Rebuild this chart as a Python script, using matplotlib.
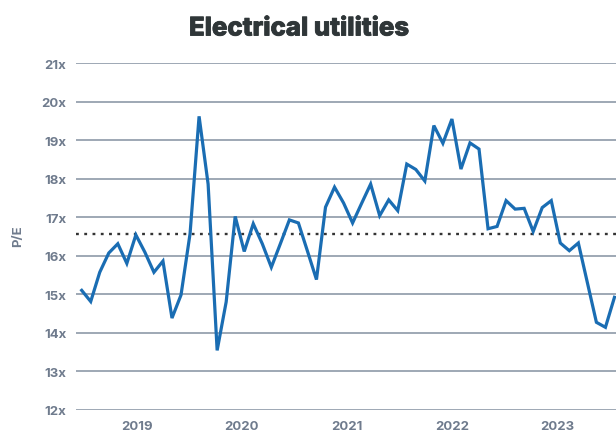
import matplotlib
matplotlib.use("Agg")
import matplotlib.pyplot as plt
import matplotlib.patheffects as pe
import numpy as np

# Monthly P/E values
pe_values = [
    15.10, 14.81, 15.57, 16.07, 16.31, 15.80, 16.54, 16.09, 15.57, 15.86,
    14.38, 14.98, 16.57, 19.62, 17.86, 13.54, 14.80, 17.02, 16.11, 16.83,
    16.31, 15.70, 16.31, 16.93, 16.85, 16.12, 15.38, 17.26, 17.78, 17.37,
    16.85, 17.36, 17.86, 17.04, 17.45, 17.17, 18.38, 18.24, 17.94, 19.38,
    18.92, 19.55, 18.25, 18.93, 18.77, 16.70, 16.76, 17.43, 17.21, 17.23,
    16.63, 17.25, 17.43, 16.33, 16.13, 16.33, 15.30, 14.27, 14.14, 14.92,
]
average_pe = 16.57
year_labels = ["2019", "2020", "2021", "2022", "2023"]
year_positions = [6.12, 17.75, 29.38, 41.01, 52.64]
y_ticks = list(range(12, 22))
y_tick_labels = [f"{v}x" for v in y_ticks]

font = "Inter"
label_color = "#6f7b8d"
grid_color = "#8e99a8"

fig = plt.figure(figsize=(6.16, 4.35), dpi=100)
ax = fig.add_axes([76/616, (435-410.7)/435, 1 - 76/616, (410.7-64.2)/435])

x = np.arange(len(pe_values))
ax.plot(x, pe_values, color="#1a6db3", linewidth=2.3, solid_joinstyle="miter", zorder=3, clip_on=False)
ax.axhline(average_pe, color="#333333", linewidth=1.7, linestyle=(0, (1.2, 2.3)), zorder=2)

ax.set_xlim(-0.63, 59.17)
ax.set_ylim(12, 21)
ax.set_yticks(y_ticks)
ax.set_yticklabels(y_tick_labels)
ax.set_xticks(year_positions)
ax.set_xticklabels(year_labels)
ax.grid(axis="y", color=grid_color, linewidth=1.2, zorder=1)
for s in ax.spines.values():
    s.set_visible(False)
ax.tick_params(axis="both", length=0, labelcolor=label_color)
ax.tick_params(axis="y", pad=7)
ax.tick_params(axis="x", pad=7.5)
for lab in ax.get_yticklabels() + ax.get_xticklabels():
    lab.set_fontfamily(font)
    lab.set_fontweight("bold")
    lab.set_fontsize(9.5)

fig.text(18/616, 1 - 236/435, "P/E", rotation=90, ha="center", va="center",
         color=label_color, fontfamily=font, fontweight="bold", fontsize=9.5)
fig.text(299/616, 1 - 30/435, "Electrical utilities", ha="center", va="center",
         color="#2f3638", fontfamily=font, fontweight="heavy", fontsize=18.5,
         path_effects=[pe.withStroke(linewidth=0.6, foreground="#2f3638")])

fig.savefig("out.png", dpi=100)
